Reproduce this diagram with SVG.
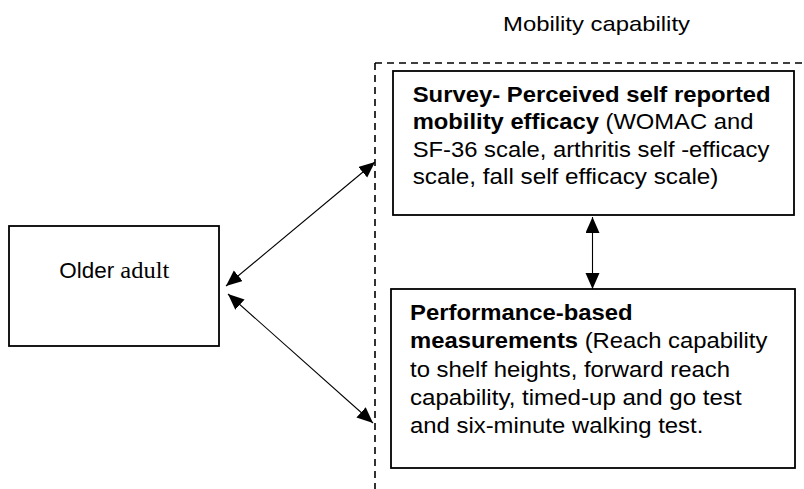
<svg xmlns="http://www.w3.org/2000/svg" width="804" height="489" viewBox="0 0 804 489">
  <style>
    .box { fill: #ffffff; stroke: #000000; stroke-width: 1.8; }
    .dash { fill: none; stroke: #000000; stroke-width: 1.6; stroke-dasharray: 7 5; }
    .link { fill: none; stroke: #000000; stroke-width: 1.1; marker-start: url(#head); marker-end: url(#head); }
    .t { font-family: "Liberation Sans", Arial, sans-serif; font-size: 22px; fill: #000000; }
    .label { font-size: 21px; }
    .b { font-weight: bold; }
    .serif { font-family: "Liberation Serif", "Times New Roman", serif; font-size: 24px; }
  </style>
  <defs>
    <marker id="head" markerUnits="userSpaceOnUse" markerWidth="17" markerHeight="15" refX="16" refY="7" orient="auto-start-reverse">
      <path d="M0,0 L16,7 L0,14 Z" fill="#000000"/>
    </marker>
  </defs>

  <rect width="804" height="489" fill="#ffffff"/>

  <!-- grouping frame for the mobility capability measures -->
  <g id="mobility-capability">
    <path class="dash" d="M375,63 H804"/>
    <path class="dash" d="M375,63 V489"/>
    <text class="t label" x="503" y="31" textLength="187" lengthAdjust="spacingAndGlyphs">Mobility capability</text>
  </g>

  <g id="older-adult">
    <rect class="box" x="9" y="226" width="210" height="120"/>
    <text class="t" x="59.3" y="278" textLength="110" lengthAdjust="spacingAndGlyphs">Older <tspan class="serif">adult</tspan></text>
  </g>

  <g id="survey">
    <rect class="box" x="393" y="71" width="401" height="144"/>
    <text class="t b" x="412.7" y="101.7" textLength="358" lengthAdjust="spacingAndGlyphs">Survey- Perceived self reported</text>
    <text class="t" x="412.7" y="129" textLength="340.7" lengthAdjust="spacingAndGlyphs"><tspan class="b">mobility efficacy</tspan> (WOMAC and</text>
    <text class="t" x="412.7" y="156.5" textLength="356.7" lengthAdjust="spacingAndGlyphs">SF-36 scale, arthritis self -efficacy</text>
    <text class="t" x="412.7" y="184" textLength="305.7" lengthAdjust="spacingAndGlyphs">scale, fall self efficacy scale)</text>
  </g>

  <g id="performance">
    <rect class="box" x="391" y="289" width="404" height="179"/>
    <text class="t b" x="410" y="320" textLength="222.7" lengthAdjust="spacingAndGlyphs">Performance-based</text>
    <text class="t" x="410" y="348.3" textLength="357.3" lengthAdjust="spacingAndGlyphs"><tspan class="b">measurements</tspan> (Reach capability</text>
    <text class="t" x="410" y="376.7" textLength="320" lengthAdjust="spacingAndGlyphs">to shelf heights, forward reach</text>
    <text class="t" x="410" y="405" textLength="331.7" lengthAdjust="spacingAndGlyphs">capability, timed-up and go test</text>
    <text class="t" x="410" y="433.3" textLength="293.3" lengthAdjust="spacingAndGlyphs">and six-minute walking test.</text>
  </g>

  <!-- two-way links -->
  <g id="connectors">
    <line class="link" x1="226" y1="286" x2="375" y2="162"/>
    <line class="link" x1="228" y1="294" x2="373" y2="423"/>
    <line class="link" x1="592.5" y1="217" x2="592.5" y2="289"/>
  </g>
</svg>
